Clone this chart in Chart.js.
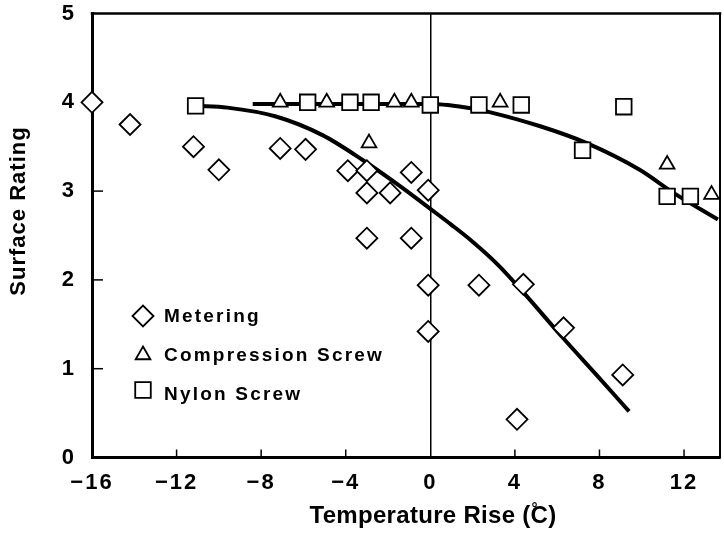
<!DOCTYPE html>
<html>
<head>
<meta charset="utf-8">
<script src="https://cdn.jsdelivr.net/npm/chart.js@4/dist/chart.umd.min.js"></script>
<style>
  html, body { margin: 0; padding: 0; background: #fff; overflow: hidden; }
  #wrap { width: 724px; height: 539px; position: relative; }
  canvas { display: block; }
</style>
</head>
<body>
<div id="wrap"><canvas id="chart"></canvas></div>
<script>
// data
const meteringX = [-16, -14.2, -11.2, -10, -7.1, -5.9, -3.9, -3, -3, -1.9, -3, -0.9, -0.1, -0.9, -0.1, -0.1, 2.3, 4.4, 4.1, 6.3, 9.1];
const meteringY = [4.0, 3.75, 3.5, 3.24, 3.48, 3.47, 3.23, 3.23, 2.98, 2.98, 2.47, 3.21, 3.01, 2.47, 1.94, 1.42, 1.94, 1.95, 0.43, 1.46, 0.93];

const compressionX = [-7.1, -4.9, -2.9, -1.7, -0.9, 3.3, 11.2, 13.3];
const compressionY = [4.0, 4.0, 3.54, 4.0, 4.0, 4.0, 3.3, 2.96];

const nylonX = [-11.1, -5.8, -3.8, -2.8, 0, 2.3, 4.3, 7.2, 9.15, 11.2, 12.3];
const nylonY = [3.96, 4.0, 4.0, 4.0, 3.97, 3.97, 3.97, 3.46, 3.95, 2.94, 2.94];

// fitted curves
const fitMeteringX = [-11.1, -9.6, -7.3, -5.1, -3.2, -1.4, 0, 1.0, 2.0, 3.2, 4.4, 6.3, 7.9, 9.4];
const fitMeteringY = [3.96, 3.94, 3.84, 3.63, 3.35, 3.05, 2.8, 2.62, 2.43, 2.17, 1.86, 1.34, 0.92, 0.52];
const fitScrewX = [-8.4, -4, 0, 2.0, 2.8, 5.2, 7.4, 9.9, 11.5, 13.6];
const fitScrewY = [3.98, 3.98, 3.98, 3.93, 3.89, 3.73, 3.54, 3.24, 2.98, 2.68];

const xTicks = [-16, -12, -8, -4, 0, 4, 8, 12];
const xTickLabels = ["\u221216", "\u221212", "\u22128", "\u22124", "0", "4", "8", "12"];
const yTicks = [0, 1, 2, 3, 4, 5];
const yTickLabels = ["0", "1", "2", "3", "4", "5"];

const xTitle = "Temperature Rise (C)";
const yTitle = "Surface Rating";

function pts(xs, ys) {
  return xs.map((x, i) => ({ x: x, y: ys[i] }));
}

const FONT = "'Liberation Sans', Arial, sans-serif";
const noPadding = () => ({ left: 0, top: 0, right: 0, bottom: 0 });

const framePlugin = {
  id: "frame",
  beforeDraw(chart) {
    chart.ctx.letterSpacing = "2px";
  },
  beforeDatasetsDraw(chart) {
    const ctx = chart.ctx;
    const a = chart.chartArea;
    const xs = chart.scales.x;
    const ys = chart.scales.y;
    ctx.save();
    ctx.strokeStyle = "#000";
    ctx.lineCap = "square";
    // top and right border
    ctx.lineWidth = 2.5;
    ctx.beginPath();
    ctx.moveTo(a.left, a.top);
    ctx.lineTo(a.right, a.top);
    ctx.stroke();
    ctx.lineWidth = 2;
    ctx.beginPath();
    ctx.moveTo(a.right, a.top);
    ctx.lineTo(a.right, a.bottom);
    ctx.stroke();
    // inward ticks
    ctx.lineWidth = 1.5;
    ctx.lineCap = "butt";
    yTicks.forEach((v) => {
      if (v === 0 || v === 5) return;
      const y = ys.getPixelForValue(v);
      ctx.beginPath();
      ctx.moveTo(a.left, y);
      ctx.lineTo(a.left + 11, y);
      ctx.stroke();
    });
    xTicks.forEach((v) => {
      if (v === 0 || v === -16) return;
      const x = xs.getPixelForValue(v);
      ctx.beginPath();
      ctx.moveTo(x, a.bottom);
      ctx.lineTo(x, a.bottom - 8);
      ctx.stroke();
    });
    ctx.restore();
  },
  afterDraw(chart) {
    const ctx = chart.ctx;
    ctx.save();
    // legend inside the plot
    const rows = [316, 355, 394];
    const sets = chart.data.datasets.filter((d) => d.type === "scatter");
    ctx.font = "bold 19px " + FONT;
    ctx.letterSpacing = "2.2px";
    ctx.textBaseline = "middle";
    ctx.textAlign = "left";
    sets.forEach((d, i) => {
      ctx.fillStyle = "#fff";
      ctx.strokeStyle = "#000";
      ctx.lineWidth = 1.8;
      Chart.helpers.drawPoint(
        ctx,
        { pointStyle: d.pointStyle, radius: d.pointRadius, borderWidth: 1.8, rotation: 0 },
        143,
        rows[i] - (d.pointStyle === "rect" ? 4 : 0),
      );
      ctx.fillStyle = "#000";
      ctx.fillText(d.label, 164, rows[i] + 1);
    });

    // axis titles
    ctx.fillStyle = "#000";
    ctx.font = "bold 24px " + FONT;
    ctx.letterSpacing = "0.3px";
    ctx.textAlign = "center";
    ctx.textBaseline = "alphabetic";
    ctx.fillText(xTitle, 433, 523);
    const full = ctx.measureText(xTitle).width;
    const pre = ctx.measureText(xTitle.slice(0, xTitle.length - 2)).width;
    ctx.font = "bold 15px " + FONT;
    ctx.textAlign = "left";
    ctx.fillText("\u00b0", 433 - full / 2 + pre + 1, 513);

    ctx.font = "bold 22px " + FONT;
    ctx.letterSpacing = "1px";
    ctx.translate(19, 211);
    ctx.rotate(-Math.PI / 2);
    ctx.textAlign = "center";
    ctx.textBaseline = "middle";
    ctx.fillText(yTitle, 0, 0);
    ctx.restore();
  },
};

const markerStyle = {
  type: "scatter",
  showLine: false,
  backgroundColor: "#fff",
  borderColor: "#000",
  borderWidth: 1.8,
  clip: false,
  order: 0,
};

const fitStyle = {
  type: "line",
  borderColor: "#000",
  borderWidth: 4,
  pointRadius: 0,
  tension: 0.4,
  cubicInterpolationMode: "monotone",
  fill: false,
  order: 5,
};

new Chart(document.getElementById("chart"), {
  type: "scatter",
  data: {
    datasets: [
      { ...fitStyle, label: "fit metering", data: pts(fitMeteringX, fitMeteringY) },
      { ...fitStyle, label: "fit screw", data: pts(fitScrewX, fitScrewY) },
      {
        ...markerStyle,
        label: "Metering",
        data: pts(meteringX, meteringY),
        pointStyle: "rectRot",
        pointRadius: 10.5,
      },
      {
        ...markerStyle,
        label: "Compression Screw",
        data: pts(compressionX, compressionY),
        pointStyle: "triangle",
        pointRadius: 8.5,
      },
      {
        ...markerStyle,
        label: "Nylon Screw",
        data: pts(nylonX, nylonY),
        pointStyle: "rect",
        pointRadius: 11,
      },
    ],
  },
  options: {
    responsive: true,
    maintainAspectRatio: false,
    animation: false,
    layout: { autoPadding: false, padding: { top: 13.5, right: 4, left: 0, bottom: 0 } },
    plugins: {
      legend: { display: false },
      tooltip: { enabled: false },
    },
    scales: {
      x: {
        type: "linear",
        min: -16,
        max: 13.7,
        afterBuildTicks: (s) => {
          s.ticks = xTicks.map((v) => ({ value: v }));
        },
        afterFit: (s) => {
          s.height = 81.5;
          s.getPadding = noPadding;
        },
        border: { display: true, color: "#000", width: 3 },
        grid: {
          drawTicks: false,
          color: (c) => (c.tick && c.tick.value === 0 ? "#000" : "rgba(0,0,0,0)"),
          lineWidth: 1.5,
        },
        ticks: {
          autoSkip: false,
          maxRotation: 0,
          padding: 12,
          color: "#000",
          font: { family: FONT, size: 22, weight: "bold" },
          callback: (v) => {
            const i = xTicks.indexOf(v);
            return i >= 0 ? xTickLabels[i] : "";
          },
        },
      },
      y: {
        type: "linear",
        min: 0,
        max: 5,
        afterBuildTicks: (s) => {
          s.ticks = yTicks.map((v) => ({ value: v }));
        },
        afterFit: (s) => {
          s.width = 92;
          s.getPadding = noPadding;
        },
        border: { display: true, color: "#000", width: 3 },
        grid: { display: false, drawTicks: false },
        ticks: {
          padding: 16,
          color: "#000",
          font: { family: FONT, size: 22, weight: "bold" },
          callback: (v) => {
            const i = yTicks.indexOf(v);
            return i >= 0 ? yTickLabels[i] : "";
          },
        },
      },
    },
  },
  plugins: [framePlugin],
});
</script>
</body>
</html>
